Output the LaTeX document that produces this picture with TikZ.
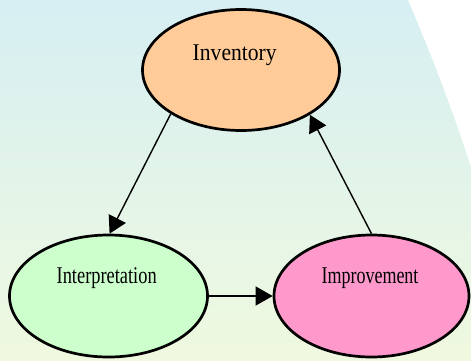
\documentclass[tikz,border=0pt]{standalone}
\usepackage{fontspec}
\setmainfont{Liberation Serif}
\usetikzlibrary{shapes.geometric,arrows.meta}
\definecolor{bgtop}{HTML}{D6EFF3}
\definecolor{bgbot}{HTML}{EFF9DF}
\definecolor{invfill}{HTML}{FFCC99}
\definecolor{intfill}{HTML}{CCFFCC}
\definecolor{impfill}{HTML}{FF99CC}
\tikzset{
 stage/.style={ellipse, draw=black, line width=2.7pt, inner sep=0pt},
 lbl/.style={anchor=base, inner sep=0pt, font=\fontsize{24}{24}\selectfont},
 flow/.style={draw=black, line width=1.4pt, -{Triangle[length=17pt,width=19pt]}},
}
\begin{document}
\begin{tikzpicture}[x=1pt,y=-1pt]
\useasboundingbox (0,0) rectangle (471,360);
\shade[top color=bgtop, bottom color=bgbot] (0,0) rectangle (471,360);
\fill[white] (408,0) -- (471,0) -- (471,167) .. controls (453,111) and (432,56) .. (408,0) -- cycle;
\node[stage, fill=invfill, minimum width=197pt, minimum height=121pt] (inv) at (241,70) {};
\node[stage, fill=intfill, minimum width=198pt, minimum height=122pt] (interp) at (108.5,296) {};
\node[stage, fill=impfill, minimum width=195pt, minimum height=122pt] (impr) at (371.5,296) {};
\node[lbl] (invt) at (234.7,60) {\scalebox{0.9}[1]{Inventory}};
\node[lbl] (interpt) at (106.7,283) {\scalebox{0.766}[1]{Interpretation}};
\node[lbl] (imprt) at (370,283) {\scalebox{0.75}[1]{Improvement}};
\draw[flow] (inv.212) -- (interp.89);
\draw[flow] (interp.east) -- (impr.west);
\draw[flow] (impr.north) -- (inv.-33);
\end{tikzpicture}
\end{document}
